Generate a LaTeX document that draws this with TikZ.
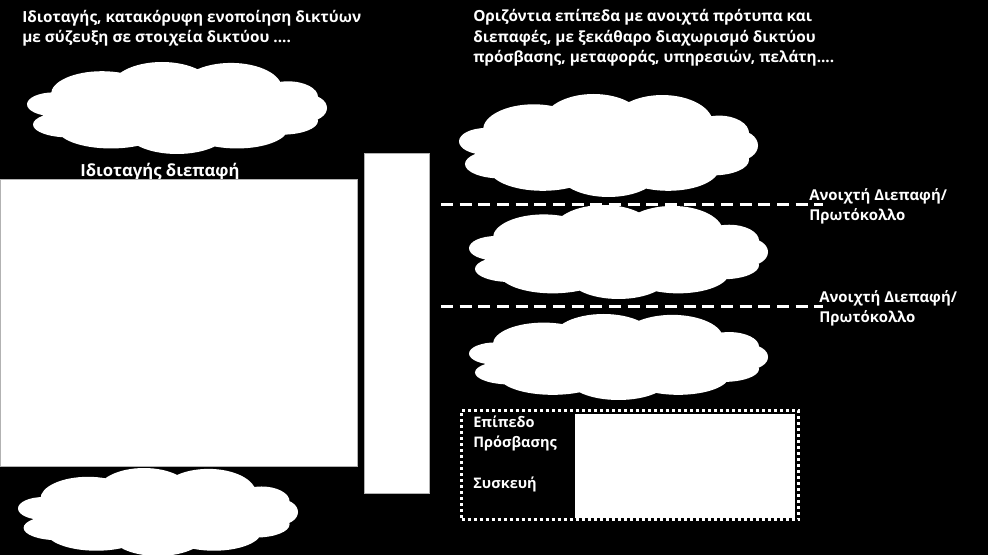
\documentclass[tikz,border=0pt]{standalone}
\usepackage{fontspec}
\setmainfont{Open Sans}
\begin{document}
\begin{tikzpicture}[x=0.75pt,y=-0.75pt,
  txt/.style={text=white,font=\bfseries\fontsize{11.5}{13}\selectfont,inner sep=0pt,anchor=base west},
  lbltxt/.style={txt,font=\bfseries\fontsize{11.2}{13}\selectfont},
  acctxt/.style={txt,font=\bfseries\fontsize{10.9}{13}\selectfont},
  bigtxt/.style={txt,font=\bfseries\fontsize{12.5}{14}\selectfont},
  wbox/.style={fill=white,draw=gray!60,line width=0.5pt,inner sep=0pt,anchor=north west},
  dline/.style={draw=white,line width=2.25pt,dash pattern=on 9pt off 5pt},
  dotbox/.style={draw=white,line width=2.25pt,dash pattern=on 2.25pt off 2.25pt},
  cloudpic/.pic={
    \fill[white]
      (0.50,0.52) ellipse [x radius=0.42, y radius=0.33]
      (0.09,0.46) ellipse [x radius=0.09, y radius=0.13]
      (0.14,0.68) ellipse [x radius=0.12, y radius=0.14]
      (0.25,0.35) ellipse [x radius=0.17, y radius=0.25]
      (0.45,0.28) ellipse [x radius=0.17, y radius=0.28]
      (0.68,0.29) ellipse [x radius=0.17, y radius=0.28]
      (0.87,0.38) ellipse [x radius=0.10, y radius=0.17]
      (0.93,0.50) ellipse [x radius=0.07, y radius=0.15]
      (0.85,0.64) ellipse [x radius=0.12, y radius=0.15]
      (0.70,0.72) ellipse [x radius=0.17, y radius=0.22]
      (0.50,0.75) ellipse [x radius=0.17, y radius=0.25]
      (0.28,0.72) ellipse [x radius=0.18, y radius=0.22];
  }]
\fill[black] (0,0) rectangle (988,555);
\useasboundingbox (0,0) rectangle (988,555);
% titles
\node[txt] (t1a) at (22,23) {Ιδιοταγής, κατακόρυφη ενοποίηση δικτύων};
\node[txt] (t1b) at (22,43) {με σύζευξη σε στοιχεία δικτύου ....};
\node[txt] (t2a) at (473,22) {Οριζόντια επίπεδα με ανοιχτά πρότυπα και};
\node[txt] (t2b) at (473,43) {διεπαφές, με ξεκάθαρο διαχωρισμό δικτύου};
\node[txt] (t2c) at (473,63) {πρόσβασης, μεταφοράς, υπηρεσιών, πελάτη....};
% left side
\pic[xscale=300,yscale=92] at (27,62) {cloudpic};
\node[bigtxt] (prop) at (80,177) {Ιδιοταγής διεπαφή};
\node[wbox,minimum width=267.75pt,minimum height=215.25pt] (bigL) at (0,179) {};
\pic[xscale=280,yscale=88] at (18,468) {cloudpic};
\node[wbox,minimum width=48.75pt,minimum height=255pt] (vert) at (364,153) {};
% right side clouds
\pic[xscale=299,yscale=103] at (459,94) {cloudpic};
\pic[xscale=299,yscale=94] at (469,205) {cloudpic};
\pic[xscale=299,yscale=86] at (469,314) {cloudpic};
% dashed interfaces
\coordinate (d1a) at (441,205); \coordinate (d1b) at (823,205);
\coordinate (d2a) at (441,307); \coordinate (d2b) at (823,307);
\draw[dline] (d1a) -- (d1b);
\draw[dline] (d2a) -- (d2b);
\node[lbltxt] (l1a) at (809,201) {Ανοιχτή Διεπαφή/};
\node[lbltxt] (l1b) at (809,221) {Πρωτόκολλο};
\node[lbltxt] (l2a) at (819,303) {Ανοιχτή Διεπαφή/};
\node[lbltxt] (l2b) at (819,323) {Πρωτόκολλο};
% access level box
\node[wbox,draw=none,minimum width=165pt,minimum height=78pt] (dev) at (575,414) {};
\node[dotbox,inner sep=0pt,anchor=north west,minimum width=252.75pt,minimum height=81.75pt] (acc) at (460,409) {};
\node[acctxt] (a1) at (473,428) {Επίπεδο};
\node[acctxt] (a2) at (473,447) {Πρόσβασης};
\node[acctxt] (a3) at (473,488) {Συσκευή};
\end{tikzpicture}
\end{document}
